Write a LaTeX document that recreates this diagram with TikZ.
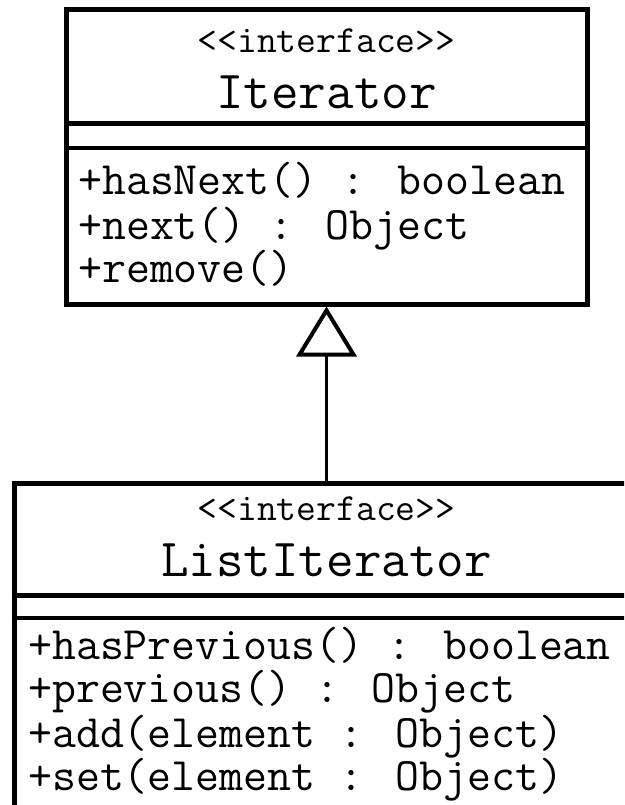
\documentclass[tikz,border=0pt]{standalone}
\usepackage{fontspec}
\usetikzlibrary{arrows.meta}
\begin{document}
\begin{tikzpicture}[x=1pt,y=-1pt,
  classbox/.style={draw, line width=5pt, rectangle, inner sep=0pt},
  thickdiv/.style={line width=5pt},
  thindiv/.style={line width=3.5pt},
  stereo/.style={anchor=base, inner sep=0pt, font=\ttfamily\fontsize{38.5}{38.5}\selectfont},
  cname/.style={anchor=base, inner sep=0pt, font=\ttfamily\fontsize{53.5}{53.5}\selectfont},
  member/.style={anchor=base west, inner sep=0pt, font=\ttfamily\fontsize{46.5}{46.5}\selectfont},
  realize/.style={line width=2.5pt, -{Triangle[open, length=50pt, width=60pt, line width=4pt]}}
]
\useasboundingbox (0,0) rectangle (624,805);
\fill[white] (0,0) rectangle (624,805);
\clip (0,0) rectangle (624,805);

% Iterator box
\node[classbox, minimum width=521pt, minimum height=294pt] (iter) at (326.5,157) {};
\draw[thickdiv] (iter.west |- 0,124) -- (iter.east |- 0,124);
\draw[thindiv] (iter.west |- 0,148) -- (iter.east |- 0,148);
\node[stereo] (iterst) at (326.5,53) {<\kern0pt<interface>\kern0pt>};
\node[cname] (itername) at (326.5,109) {Iterator};
\node[member] (m1) at (78,194) {+hasNext() : boolean};
\node[member] (m2) at (78,239) {+next() : Object};
\node[member] (m3) at (78,282) {+remove()};

% ListIterator box
\node[classbox, minimum width=636pt, minimum height=347pt] (list) at (332,656.5) {};
\draw[thickdiv] (list.west |- 0,595) -- (list.east |- 0,595);
\draw[thindiv] (list.west |- 0,618) -- (list.east |- 0,618);
\node[stereo] (listst) at (326.5,520) {<\kern0pt<interface>\kern0pt>};
\node[cname] (listname) at (326.5,576) {ListIterator};
\node[member] (l1) at (28,659) {+hasPrevious() : boolean};
\node[member] (l2) at (28,702) {+previous() : Object};
\node[member] (l3) at (28,747) {+add(element : Object)};
\node[member] (l4) at (28,790) {+set(element : Object)};

% realization
\draw[realize] (list.north -| iter.south) -- (iter.south);
\end{tikzpicture}
\end{document}
